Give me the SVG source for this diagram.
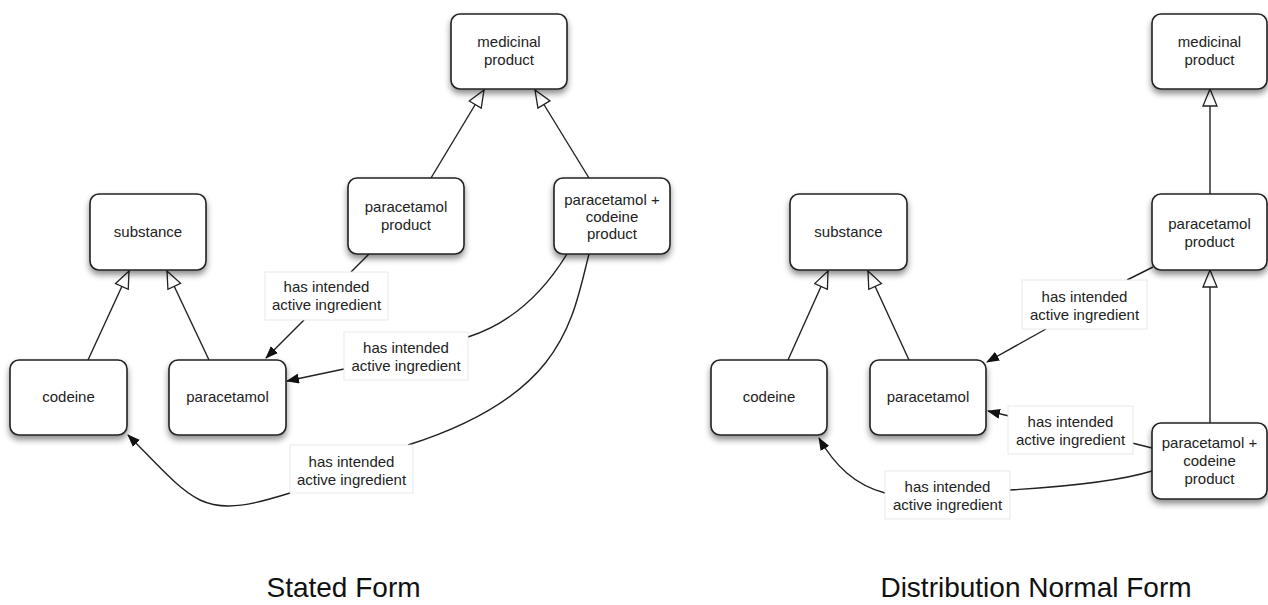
<svg xmlns="http://www.w3.org/2000/svg" width="1268" height="605" viewBox="0 0 1268 605">
  <defs>
    <filter id="shadow" x="-20%" y="-20%" width="140%" height="150%">
      <feDropShadow dx="0" dy="4" stdDeviation="3" flood-color="#000" flood-opacity="0.45"/>
    </filter>
    <!-- hollow triangle for generalisation -->
    <marker id="gen" viewBox="0 0 19 16" refX="18" refY="8" markerWidth="19" markerHeight="16" markerUnits="userSpaceOnUse" orient="auto">
      <path d="M1,1 L18,8 L1,15 Z" fill="#fff" stroke="#222" stroke-width="1.3" stroke-linejoin="miter"/>
    </marker>
    <!-- filled arrowhead for relationships -->
    <marker id="arr" viewBox="0 0 13 10" refX="12" refY="5" markerWidth="13" markerHeight="10" markerUnits="userSpaceOnUse" orient="auto">
      <path d="M0,0 L13,5 L0,10 Z" fill="#111"/>
    </marker>
  </defs>
  <style>
    .node rect { fill: #fff; stroke: #222; stroke-width: 1.6; filter: url(#shadow); }
    .node text, .label text { font-family: "Liberation Sans", Arial, sans-serif; font-size: 15px; fill: #222; text-anchor: middle; }
    .label rect { fill: #fff; stroke: #e4e4e4; stroke-width: 0.8; }
    .edge { fill: none; stroke: #222; stroke-width: 1.4; }
    .isa { marker-end: url(#gen); }
    .rel { marker-end: url(#arr); }
    .title { font-family: "Liberation Sans", Arial, sans-serif; font-size: 28px; fill: #111; text-anchor: middle; }
  </style>

  <rect width="1268" height="605" fill="#fff"/>

  <!-- connectors -->
  <g id="connectors">
    <!-- stated form: subsumption -->
    <path class="edge isa" d="M88,360 L129,271"/>
    <path class="edge isa" d="M209,360 L167,271"/>
    <path class="edge isa" d="M431,178 L484,90"/>
    <path class="edge isa" d="M589,178 L535,90"/>
    <!-- stated form: has intended active ingredient -->
    <path class="edge" d="M369,254 L351,272"/>
    <path class="edge rel" d="M304,320 L266,358"/>
    <path class="edge" d="M567,254 C545,290 515,322 468,337"/>
    <path class="edge rel" d="M344,369 L287,381"/>
    <path class="edge" d="M589,254 C572,320 565,395 408,445"/>
    <path class="edge rel" d="M290,493 C255,504 225,512 200,500 C178,489 158,465 128,435"/>

    <!-- distribution normal form: subsumption -->
    <path class="edge isa" d="M788,360 L828,271"/>
    <path class="edge isa" d="M909,360 L868,271"/>
    <path class="edge isa" d="M1210,194 L1210,89"/>
    <path class="edge isa" d="M1210,423 L1210,270"/>
    <!-- distribution normal form: has intended active ingredient -->
    <path class="edge" d="M1153,267 L1127,280"/>
    <path class="edge rel" d="M1046,329 L987,362"/>
    <path class="edge" d="M1152,448 L1132,443"/>
    <path class="edge rel" d="M1009,416 L988,411"/>
    <path class="edge" d="M1152,471 Q1110,484 1010,490"/>
    <path class="edge rel" d="M885,493 C855,485 835,466 819,438"/>
  </g>

  <!-- relationship labels -->
  <g id="labels">
    <g class="label" id="lbl-s1"><rect x="265" y="272" width="123" height="48"/><text x="326.5" y="292">has intended</text><text x="326.5" y="310">active ingredient</text></g>
    <g class="label" id="lbl-s2"><rect x="344" y="332" width="124" height="48"/><text x="406" y="353">has intended</text><text x="406" y="371">active ingredient</text></g>
    <g class="label" id="lbl-s3"><rect x="290" y="445" width="123" height="48"/><text x="351.5" y="467">has intended</text><text x="351.5" y="485">active ingredient</text></g>
    <g class="label" id="lbl-d1"><rect x="1022" y="280" width="125" height="49"/><text x="1084.5" y="302">has intended</text><text x="1084.5" y="320">active ingredient</text></g>
    <g class="label" id="lbl-d2"><rect x="1008" y="406" width="125" height="48"/><text x="1070.5" y="427">has intended</text><text x="1070.5" y="445">active ingredient</text></g>
    <g class="label" id="lbl-d3"><rect x="885" y="471" width="125" height="48"/><text x="947.5" y="492">has intended</text><text x="947.5" y="510">active ingredient</text></g>
  </g>

  <!-- stated form nodes -->
  <g class="node" id="s-medicinal-product"><rect x="451" y="14" width="116" height="75" rx="9"/><text x="509" y="47">medicinal</text><text x="509" y="65">product</text></g>
  <g class="node" id="s-paracetamol-product"><rect x="348" y="178" width="116" height="76" rx="9"/><text x="406" y="212">paracetamol</text><text x="406" y="230">product</text></g>
  <g class="node" id="s-combo-product"><rect x="554" y="178" width="116" height="76" rx="9"/><text x="612" y="205">paracetamol +</text><text x="612" y="222">codeine</text><text x="612" y="239">product</text></g>
  <g class="node" id="s-substance"><rect x="90" y="194" width="116" height="76" rx="9"/><text x="148" y="237">substance</text></g>
  <g class="node" id="s-codeine"><rect x="10" y="360" width="117" height="75" rx="9"/><text x="68.5" y="402">codeine</text></g>
  <g class="node" id="s-paracetamol"><rect x="169" y="360" width="117" height="75" rx="9"/><text x="227.5" y="402">paracetamol</text></g>

  <!-- distribution normal form nodes -->
  <g class="node" id="d-medicinal-product"><rect x="1152" y="14" width="115" height="75" rx="9"/><text x="1209.5" y="47">medicinal</text><text x="1209.5" y="65">product</text></g>
  <g class="node" id="d-paracetamol-product"><rect x="1152" y="194" width="115" height="76" rx="9"/><text x="1209.5" y="229">paracetamol</text><text x="1209.5" y="247">product</text></g>
  <g class="node" id="d-substance"><rect x="790" y="194" width="117" height="76" rx="9"/><text x="848.5" y="237">substance</text></g>
  <g class="node" id="d-codeine"><rect x="711" y="360" width="116" height="75" rx="9"/><text x="769" y="402">codeine</text></g>
  <g class="node" id="d-paracetamol"><rect x="870" y="360" width="116" height="75" rx="9"/><text x="928" y="402">paracetamol</text></g>
  <g class="node" id="d-combo-product"><rect x="1152" y="423" width="115" height="76" rx="9"/><text x="1209.5" y="448">paracetamol +</text><text x="1209.5" y="466">codeine</text><text x="1209.5" y="484">product</text></g>

  <!-- titles -->
  <text class="title" x="343.5" y="597">Stated Form</text>
  <text class="title" x="1036" y="597">Distribution Normal Form</text>
</svg>
